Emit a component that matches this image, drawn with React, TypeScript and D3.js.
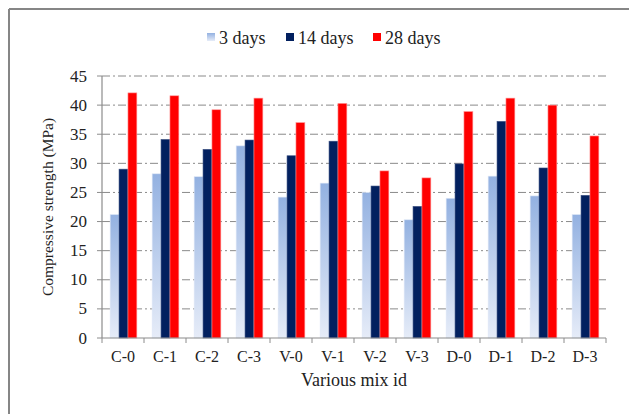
import React from "react";
import * as d3 from "d3";

const categories = ["C-0", "C-1", "C-2", "C-3", "V-0", "V-1", "V-2", "V-3", "D-0", "D-1", "D-2", "D-3"];
const seriesNames = ["3 days", "14 days", "28 days"];
const days3 = [21.2, 28.2, 27.7, 33.0, 24.2, 26.6, 25.0, 20.3, 24.0, 27.8, 24.4, 21.2];
const days14 = [29.0, 34.1, 32.4, 34.0, 31.3, 33.8, 26.1, 22.6, 29.9, 37.2, 29.2, 24.5];
const days28 = [42.1, 41.6, 39.2, 41.2, 37.0, 40.3, 28.7, 27.5, 38.9, 41.2, 40.0, 34.7];
const yTicks = [0, 5, 10, 15, 20, 25, 30, 35, 40, 45];

const W = 629;
const H = 414;
const left = 102;
const right = 606;
const top = 76;
const bottom = 338;
const font = "Liberation Serif";

export default function App() {
  const series = [days3, days14, days28];
  const x = d3.scaleBand<string>().domain(categories).range([left, right]).paddingInner(0).paddingOuter(0);
  const y = d3.scaleLinear().domain([0, 45]).range([bottom, top]);
  const bw = x.bandwidth();
  const barW = 8.9;
  const groupW = barW * 3;
  const off = (bw - groupW) / 2 + 0.5;
  const fills = ["url(#lightGrad)", "#02205f", "#ff0000"];
  const strokes = ["#dde6f5", "#3a4f80", "#ff9b9b"];

  return (
    <svg width={W} height={H} style={{ position: "absolute", left: 0, top: 0 }}>
      <defs>
        <linearGradient id="lightGrad" x1="0" y1="0" x2="0" y2="1">
          <stop offset="0%" stopColor="#93b1e1" />
          <stop offset="100%" stopColor="#e6ecf8" />
        </linearGradient>
      </defs>
      <rect x={0} y={0} width={W} height={H} fill="#fff" />
      <line x1={9} y1={9} x2={W} y2={9} stroke="#868686" strokeWidth={2} />
      <line x1={9} y1={9} x2={9} y2={H} stroke="#868686" strokeWidth={2} />

      {yTicks.filter((t) => t > 0).map((t) => (
        <line key={t} x1={left} x2={right} y1={y(t)} y2={y(t)} stroke="#8a8a8a" strokeWidth={1} strokeDasharray="8,3,2,3" />
      ))}

      {categories.map((c, i) => (
        <g key={c}>
          {series.map((s, k) => {
            const bx = (x(c) as number) + off + k * barW;
            return (
              <rect key={k} x={bx} y={y(s[i])} width={barW} height={bottom - y(s[i])} fill={fills[k]} stroke={strokes[k]} strokeWidth={0.6} />
            );
          })}
        </g>
      ))}

      <line x1={left} x2={left} y1={top} y2={bottom} stroke="#8c8c8c" strokeWidth={1.2} />
      <line x1={left} x2={right} y1={bottom} y2={bottom} stroke="#8c8c8c" strokeWidth={1.2} />
      {yTicks.map((t) => (
        <g key={t}>
          <line x1={left - 5} x2={left} y1={y(t)} y2={y(t)} stroke="#8c8c8c" />
          <text x={87} y={y(t) + 5.5} textAnchor="end" fontFamily={font} fontSize={17} fill="#222">{t}</text>
        </g>
      ))}
      {d3.range(categories.length + 1).map((i) => (
        <line key={i} x1={left + i * bw} x2={left + i * bw} y1={bottom} y2={bottom + 5} stroke="#8c8c8c" />
      ))}
      {categories.map((c) => (
        <text key={c} x={(x(c) as number) + bw / 2} y={362} textAnchor="middle" fontFamily={font} fontSize={16} fill="#222">{c}</text>
      ))}

      <text x={(left + right) / 2} y={386} textAnchor="middle" fontFamily={font} fontSize={18} fill="#222">Various mix id</text>
      <text transform={`translate(53,${(top + bottom) / 2}) rotate(-90)`} textAnchor="middle" fontFamily={font} fontSize={15.5} fill="#222">Compressive strength (MPa)</text>

      {seriesNames.map((n, k) => {
        const mx = [207, 286, 373][k];
        return (
          <g key={n}>
            <rect x={mx} y={33} width={8} height={8} fill={fills[k]} />
            <text x={mx + 12} y={44} fontFamily={font} fontSize={18} fill="#222">{n}</text>
          </g>
        );
      })}
    </svg>
  );
}
